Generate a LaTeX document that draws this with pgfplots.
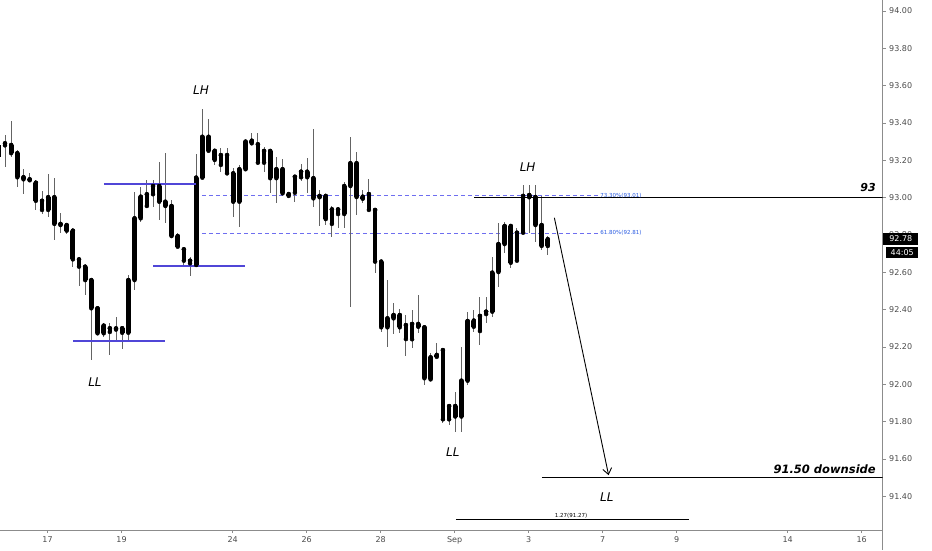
\documentclass[border=0pt]{standalone}
\usepackage{pgfplots}
\pgfplotsset{compat=1.18}
\usepackage{pgfplotstable}
\usetikzlibrary{arrows.meta}
\usepackage{fontspec}
\setmainfont{DejaVu Sans}
\definecolor{wick}{RGB}{100,100,100}
\definecolor{srblue}{RGB}{80,70,215}
\definecolor{fibline}{RGB}{110,110,240}
\definecolor{fibtext}{RGB}{40,90,225}
\definecolor{axgray}{RGB}{140,140,140}
\definecolor{lblgray}{RGB}{75,75,75}

\pgfplotstableread{
lo bl bh hi
93.191 93.218 93.282 93.309
93.162 93.280 93.291 93.336
93.219 93.238 93.282 93.412
93.057 93.109 93.238 93.255
93.019 93.098 93.109 93.152
93.084 93.093 93.098 93.134
92.934 92.983 93.080 93.094
92.912 92.934 92.983 93.035
92.895 92.934 93.002 93.125
92.773 92.859 93.002 93.104
92.809 92.853 92.859 92.916
92.805 92.823 92.853 92.862
92.630 92.669 92.823 92.826
92.526 92.630 92.669 92.683
92.478 92.558 92.630 92.639
92.130 92.407 92.558 92.569
92.264 92.273 92.407 92.419
92.255 92.273 92.314 92.326
92.157 92.280 92.300 92.326
92.228 92.293 92.299 92.359
92.187 92.276 92.300 92.308
92.237 92.276 92.558 92.585
92.505 92.558 92.889 93.032
92.871 92.889 93.005 93.057
92.944 92.955 93.018 93.094
92.951 93.018 93.062 93.094
92.880 92.978 93.062 93.192
92.862 92.955 92.978 93.238
92.784 92.794 92.955 92.987
92.730 92.737 92.794 92.810
92.639 92.662 92.723 92.737
92.580 92.648 92.662 92.683
92.632 92.639 93.107 93.234
93.100 93.107 93.326 93.473
93.248 93.251 93.326 93.420
93.175 93.202 93.251 93.259
93.139 93.175 93.228 93.264
93.119 93.130 93.228 93.264
92.898 92.978 93.130 93.157
92.844 92.978 93.152 93.175
93.148 93.152 93.300 93.309
93.287 93.291 93.305 93.345
93.175 93.187 93.286 93.348
93.139 93.187 93.250 93.273
93.023 93.104 93.250 93.255
92.969 93.104 93.152 93.216
93.014 93.023 93.152 93.205
93.001 93.009 93.019 93.025
92.978 93.026 93.112 93.121
93.091 93.109 93.139 93.180
93.026 93.109 93.139 93.211
92.948 92.996 93.104 93.366
92.848 93.002 93.009 93.041
92.853 92.885 93.009 93.011
92.791 92.859 92.937 92.955
92.836 92.912 92.937 92.951
92.836 92.912 93.062 93.085
92.415 93.062 93.184 93.323
92.907 93.003 93.184 93.246
92.973 92.994 93.005 93.041
92.928 92.934 93.019 93.098
92.598 92.657 92.934 92.943
92.281 92.305 92.657 92.663
92.198 92.305 92.353 92.558
92.269 92.353 92.371 92.437
92.276 92.305 92.371 92.401
92.151 92.242 92.317 92.371
92.192 92.241 92.323 92.398
92.273 92.308 92.323 92.478
91.996 92.032 92.305 92.312
92.015 92.026 92.144 92.166
92.140 92.147 92.157 92.222
91.791 91.812 92.183 92.189
91.781 91.812 91.883 91.889
91.746 91.827 91.883 91.960
91.746 91.827 92.019 92.199
91.996 92.019 92.339 92.387
92.281 92.308 92.341 92.398
92.210 92.285 92.366 92.466
92.326 92.376 92.389 92.466
92.362 92.389 92.598 92.682
92.523 92.601 92.751 92.866
92.703 92.751 92.848 92.869
92.621 92.651 92.848 92.859
92.655 92.662 92.812 92.836
92.810 92.812 93.009 93.068
92.809 93.002 93.014 93.068
92.764 92.853 93.003 93.068
92.717 92.741 92.853 93.009
92.692 92.741 92.777 92.794
}\candles

\begin{document}
\begin{tikzpicture}
\path[use as bounding box] (0,0) rectangle (932pt,550pt);
\begin{axis}[
  at={(0pt,20pt)}, anchor=south west,
  width=882.7pt, height=530pt, scale only axis,
  xmin=0.19, xmax=143.3, ymin=91.219, ymax=94.059,
  axis x line*=bottom, axis y line*=right,
  axis line style={axgray, line width=0.8pt},
  tick style={axgray, line width=0.6pt},
  tick align=outside, major tick length=3pt,
  xtick={7.9,19.9,37.9,49.9,61.9,73.9,85.9,97.9,109.9,127.9,139.9},
  xticklabels={17,19,24,26,28,Sep,3,7,9,14,16},
  ytick={91.4,91.6,91.8,92,92.2,92.4,92.6,92.8,93,93.2,93.4,93.6,93.8,94},
  yticklabel style={/pgf/number format/fixed, /pgf/number format/fixed zerofill, /pgf/number format/precision=2},
  /pgf/number format/assume math mode=true,
  ticklabel style={font=\fontsize{8}{9}\selectfont, text=lblgray},
]
% fib dashed levels
\addplot[fibline, line width=0.7pt, dash pattern=on 4pt off 3pt] coordinates {(32.9,93.01) (97.2,93.01)};
\addplot[fibline, line width=0.7pt, dash pattern=on 4pt off 3pt] coordinates {(32.9,92.81) (97.2,92.81)};
% candles: upper wicks, lower wicks, bodies
\addplot[only marks, mark=none, error bars/.cd, y dir=plus, y explicit, error mark=none,
  error bar style={wick, line width=0.9pt}]
  table[x expr=\coordindex, y=bh, y error plus expr=\thisrow{hi}-\thisrow{bh}] {\candles};
\addplot[only marks, mark=none, error bars/.cd, y dir=minus, y explicit, error mark=none,
  error bar style={wick, line width=0.9pt}]
  table[x expr=\coordindex, y=bl, y error minus expr=\thisrow{bl}-\thisrow{lo}] {\candles};
\addplot[only marks, mark=none, error bars/.cd, y dir=minus, y explicit, error mark=none,
  error bar style={black, line width=4.7pt}]
  table[x expr=\coordindex, y=bh, y error minus expr=\thisrow{bh}-\thisrow{bl}] {\candles};
% support / resistance lines
\addplot[srblue, line width=1.3pt] coordinates {(17.05,93.073) (31.97,93.073)};
\addplot[srblue, line width=1.3pt] coordinates {(25.0,92.633) (39.9,92.633)};
\addplot[srblue, line width=1.3pt] coordinates {(12.03,92.232) (26.95,92.232)};
\addplot[black, line width=1pt] coordinates {(77.05,93.0) (143.3,93.0)};
\addplot[black, line width=1pt] coordinates {(88.03,91.50) (143.3,91.50)};
\addplot[black, line width=0.8pt] coordinates {(74.08,91.276) (111.96,91.276)};
\addplot[black, line width=0.9pt, -{Straight Barb[length=6pt,width=9pt]}] coordinates {(90.07,92.892) (98.86,91.513)};
% labels
\node[font=\fontsize{12}{14}\selectfont\itshape] at (axis cs:32.78,93.577) {LH};
\node[font=\fontsize{12}{14}\selectfont\itshape] at (axis cs:85.73,93.161) {LH};
\node[font=\fontsize{12}{14}\selectfont\itshape] at (axis cs:15.59,92.012) {LL};
\node[font=\fontsize{12}{14}\selectfont\itshape] at (axis cs:73.6,91.634) {LL};
\node[font=\fontsize{12}{14}\selectfont\itshape] at (axis cs:98.57,91.396) {LL};
\node[font=\fontsize{11}{13}\selectfont\bfseries\itshape, anchor=east, inner sep=0pt] at (axis cs:142.2,93.054) {93};
\node[font=\fontsize{11.5}{13}\selectfont\bfseries\itshape, anchor=east, inner sep=0pt] at (axis cs:142.2,91.543) {91.50 downside};
\node[font=\fontsize{5.5}{6}\selectfont] at (axis cs:92.78,91.296) {1.27(91.27)};
\node[font=\fontsize{5.5}{6}\selectfont, text=fibtext, anchor=west, inner sep=0pt] at (axis cs:97.5,93.01) {73.30\%(93.01)};
\node[font=\fontsize{5.5}{6}\selectfont, text=fibtext, anchor=west, inner sep=0pt] at (axis cs:97.5,92.81) {61.80\%(92.81)};
\end{axis}
\draw[axgray, line width=0.8pt] (882.7pt,20pt) -- (882.7pt,0pt);
\fill[black] (883.3pt,305pt) rectangle (918.3pt,317.3pt);
\node[text=white, font=\fontsize{8}{9}\selectfont] at (900.8pt,311.1pt) {92.78};
\fill[black] (886pt,291.7pt) rectangle (918.3pt,302.7pt);
\node[text=white, font=\fontsize{8}{9}\selectfont] at (902.2pt,297.2pt) {44:05};
\end{tikzpicture}
\end{document}
